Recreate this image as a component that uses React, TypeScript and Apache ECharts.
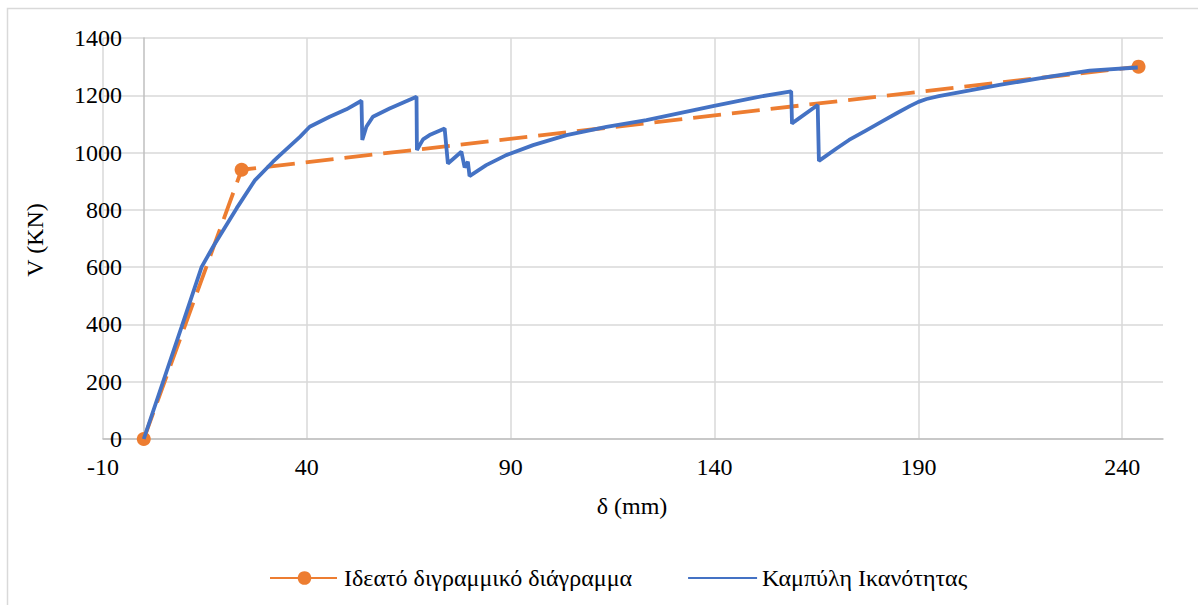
import React, { useEffect, useRef } from "react";
import * as echarts from "echarts";

const bilinearX = [0, 24, 244];
const bilinearY = [0, 940, 1300];

const capacityX = [
  0, 9.3, 14.2, 17, 22.8, 27.3, 31.7, 33.4, 38.3, 40.7, 45.6, 49.7, 53.4,
  53.6, 54.6, 56.2, 60.3, 66.9, 67, 68.5, 70.1, 73.8, 74.6, 77.9, 78.7, 79.5,
  79.9, 84, 88.9, 95.5, 103.7, 113.5, 123.3, 139.6, 150.2, 158.8, 159, 159.6,
  165.3, 165.6, 167, 170, 173, 177, 181, 185, 188, 190, 192, 195, 209.9, 222.2,
  232, 243.8,
];
const capacityY = [
  0, 392, 601, 671, 806, 904, 968, 991, 1055, 1090, 1125, 1151, 1181,
  1044, 1090, 1125, 1154, 1195, 1009, 1046, 1061, 1084, 962, 1003, 948, 968,
  918, 956, 991, 1026, 1061, 1090, 1113, 1162, 1193, 1214, 1101, 1108,
  1166, 971, 985, 1015, 1044, 1076, 1108, 1140, 1163, 1177, 1187, 1197, 1236, 1265,
  1286, 1297,
];

const seriesNames = ["Ιδεατό διγραμμικό διάγραμμα", "Καμπύλη Ικανότητας"];
const xTitle = "δ (mm)";
const yTitle = "V (KN)";

const FONT = "Liberation Serif";

export default function App() {
  const ref = useRef<HTMLDivElement>(null);
  useEffect(() => {
    if (!ref.current) return;
    const chart = echarts.init(ref.current, null, { renderer: "svg" });
    const zip = (xs: number[], ys: number[]) => xs.map((x, i) => [x, ys[i]]);
    chart.setOption({
      animation: false,
      backgroundColor: "#fff",
      textStyle: { fontFamily: FONT },
      grid: { left: 103, right: 35, top: 38, bottom: 166, containLabel: false },
      xAxis: {
        type: "value",
        min: -10,
        max: 250,
        interval: 50,
        axisLine: { show: true, onZero: true, lineStyle: { color: "#bfbfbf", width: 1.5 } },
        axisTick: { show: false },
        axisLabel: {
          showMaxLabel: false,
          color: "#000",
          fontSize: 24,
          fontFamily: FONT,
          margin: 16,
          formatter: (v: number) => String(v),
        },
        splitLine: { show: true, showMaxLine: false, lineStyle: { color: "#d9d9d9", width: 1.5 } },
      },
      yAxis: {
        type: "value",
        min: 0,
        max: 1400,
        interval: 200,
        axisLine: { show: true, onZero: true, lineStyle: { color: "#bfbfbf", width: 1.5 } },
        axisTick: { show: false },
        axisLabel: {
          color: "#000",
          fontSize: 24,
          fontFamily: FONT,
          margin: -19,
          formatter: (v: number) => String(v),
        },
        splitLine: { show: true, lineStyle: { color: "#d9d9d9", width: 1.5 } },
      },
      legend: {
        left: 264,
        top: 561,
        itemWidth: 69,
        itemHeight: 17,
        itemGap: 55,
        textStyle: { color: "#000", fontSize: 24, fontFamily: FONT },
        data: [
          { name: seriesNames[0] },
          { name: seriesNames[1], itemStyle: { opacity: 0 } },
        ],
      },
      graphic: [
        {
          type: "rect",
          silent: true,
          shape: { x: 7.5, y: 8.5, width: 1200, height: 600 },
          style: { fill: "none", stroke: "#d9d9d9", lineWidth: 1.5 },
        },
        {
          type: "text",
          x: 35,
          y: 240,
          rotation: Math.PI / 2,
          style: {
            text: yTitle,
            fill: "#000",
            fontSize: 24,
            fontFamily: FONT,
            textAlign: "center",
            textVerticalAlign: "middle",
          },
        },
        {
          type: "text",
          x: 632,
          y: 506,
          style: {
            text: xTitle,
            fill: "#000",
            fontSize: 24,
            fontFamily: FONT,
            textAlign: "center",
            textVerticalAlign: "middle",
          },
        },
      ],
      series: [
        {
          name: seriesNames[0],
          type: "line",
          data: zip(bilinearX, bilinearY),
          symbol: "circle",
          symbolSize: 14,
          itemStyle: { color: "#ED7D31" },
          lineStyle: { color: "#ED7D31", width: 3.8, type: [28, 11] },
          z: 2,
        },
        {
          name: seriesNames[1],
          type: "line",
          data: zip(capacityX, capacityY),
          symbol: "none",
          showSymbol: false,
          itemStyle: { color: "#4472C4" },
          lineStyle: { color: "#4472C4", width: 3.8 },
          z: 3,
        },
      ],
    });
    return () => chart.dispose();
  }, []);
  return (
    <div
      ref={ref}
      style={{ position: "absolute", left: 0, top: 0, width: 1198, height: 605 }}
    />
  );
}
